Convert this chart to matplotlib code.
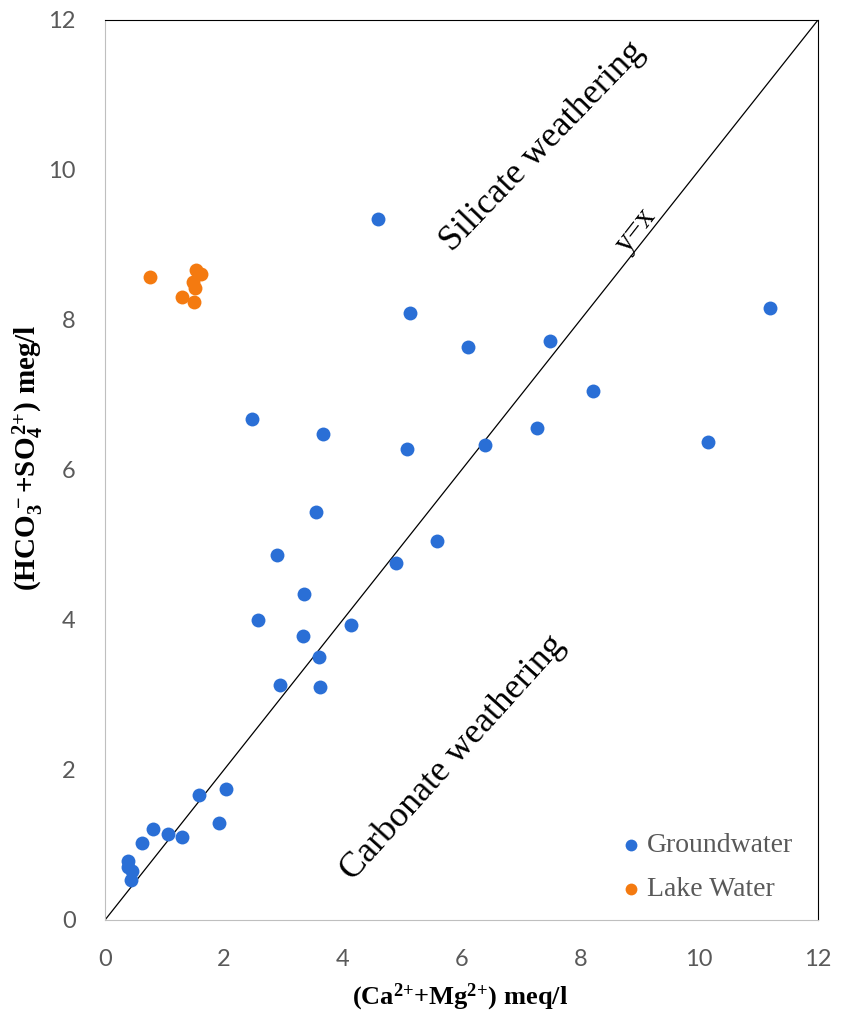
import matplotlib.pyplot as plt

# Groundwater samples (Ca+Mg vs HCO3+SO4, meq/l)
gw_x = [4.60, 5.13, 2.47, 3.67, 5.08, 3.55, 2.89, 4.90, 3.35, 2.57,
        4.14, 3.33, 3.60, 2.95, 3.62, 1.58, 2.04, 1.92, 0.80, 1.06,
        1.30, 0.62, 0.38, 0.38, 0.46, 0.44, 6.11, 7.49, 11.19, 8.21,
        7.27, 6.40, 10.15, 5.59]
gw_y = [9.35, 8.09, 6.68, 6.48, 6.28, 5.44, 4.87, 4.76, 4.35, 4.00,
        3.93, 3.79, 3.50, 3.13, 3.11, 1.67, 1.75, 1.29, 1.21, 1.15,
        1.11, 1.03, 0.78, 0.71, 0.65, 0.53, 7.64, 7.72, 8.16, 7.05,
        6.56, 6.33, 6.37, 5.05]

# Lake water samples
lake_x = [0.75, 1.30, 1.50, 1.54, 1.62, 1.48, 1.52]
lake_y = [8.57, 8.30, 8.24, 8.66, 8.61, 8.50, 8.43]

ticks = [0, 2, 4, 6, 8, 10, 12]

plt.rcParams['mathtext.fontset'] = 'custom'
plt.rcParams['mathtext.rm'] = 'Liberation Serif:bold'
plt.rcParams['mathtext.bf'] = 'Liberation Serif:bold'
plt.rcParams['mathtext.it'] = 'Liberation Serif:bold'

fig = plt.figure(figsize=(8.44, 10.15), dpi=100)
ax = fig.add_axes([0.1244, 0.0936, 0.9692 - 0.1244, 0.9803 - 0.0936])

ax.plot([0, 12], [0, 12], color="black", lw=0.9, zorder=1)
ax.scatter(gw_x, gw_y, s=100, c="#2A6FD6", label="Groundwater", zorder=3, linewidths=0)
ax.scatter(lake_x, lake_y, s=100, c="#F47A10", label="Lake Water", zorder=3, linewidths=0)

ax.set_xlim(0, 12)
ax.set_ylim(0, 12)
ax.set_xticks(ticks)
ax.set_yticks(ticks)
ax.tick_params(length=0, labelsize=17, labelcolor="#595959", pad=21)
for lab in ax.get_xticklabels() + ax.get_yticklabels():
    lab.set_fontfamily("Lato")

for s in ["left", "bottom"]:
    ax.spines[s].set_color("#BFBFBF")
for s in ["top", "right"]:
    ax.spines[s].set_color("black")

ax.set_xlabel(r"$\mathrm{(Ca^{2{+}}{+}Mg^{2{+}})\ meq/l}$", fontsize=19, va="center")
ax.set_ylabel(r"$\mathrm{(HCO_3^{\,-}{+}SO_4^{\,2{+}})\ meg/l}$", fontsize=21, va="center")
ax.xaxis.set_label_coords(0.498, -0.0856)
ax.yaxis.set_label_coords(-0.108, 0.514)

ax.text(7.37, 10.31, "Silicate weathering", rotation=46, fontsize=26,
        family="Liberation Serif", ha="center", va="center")
ax.text(5.86, 2.17, "Carbonate weathering", rotation=48, fontsize=26,
        family="Liberation Serif", ha="center", va="center")
ax.text(8.94, 9.2, "y=x", rotation=52, fontsize=22,
        family="Liberation Serif", ha="center", va="center")

leg = ax.legend(loc="upper left", bbox_to_anchor=(0.7265, 0.097), frameon=False,
                handlelength=0.6, handletextpad=0.25, markerscale=0.85,
                labelspacing=0.68, borderpad=0, borderaxespad=0,
                prop={"family": "Liberation Serif", "size": 20})
for t in leg.get_texts():
    t.set_color("#595959")

fig.savefig("out.png", dpi=100)
